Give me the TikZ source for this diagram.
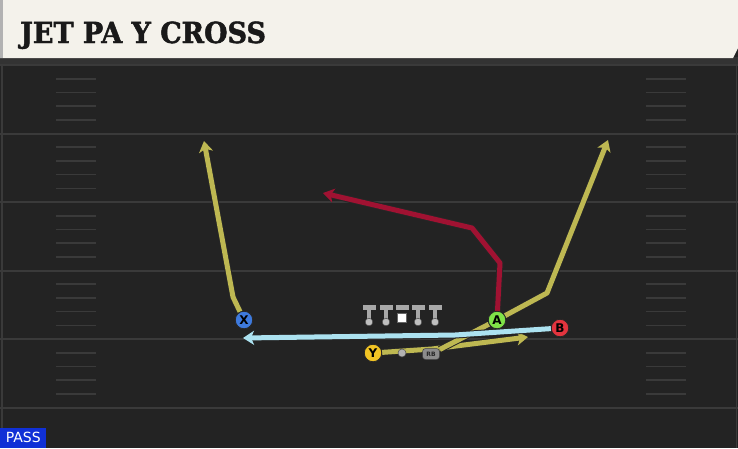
\documentclass[tikz,border=0pt]{standalone}
\usepackage{fontspec}
\setmainfont{DejaVu Sans}
\newfontfamily\titlefont[FakeStretch=0.93,FakeBold=1.6]{DejaVu Serif Bold}
\usetikzlibrary{arrows.meta}
\usetikzlibrary{positioning}

\definecolor{fieldbg}{RGB}{35,35,35}
\definecolor{yardline}{RGB}{58,58,58}
\definecolor{headercream}{RGB}{244,242,235}
\definecolor{routeyellow}{RGB}{190,184,82}
\definecolor{routered}{RGB}{160,18,50}
\definecolor{routeblue}{RGB}{172,226,240}
\definecolor{xblue}{RGB}{62,122,222}
\definecolor{agreen}{RGB}{128,226,72}
\definecolor{bred}{RGB}{226,52,62}
\definecolor{yyellow}{RGB}{242,196,36}
\definecolor{passblue}{RGB}{16,48,214}
\definecolor{olgray}{RGB}{168,168,168}

\pgfdeclarelayer{field}
\pgfdeclarelayer{routes}
\pgfsetlayers{field,routes,main}

\tikzset{
  player/.style={circle,draw=black!85,line width=0.8pt,minimum size=17.5pt,inner sep=0pt,
    font=\bfseries\fontsize{12}{12}\selectfont},
  route/.style={line width=5pt,line join=round,
    preaction={draw=black!85,line width=7pt}},
  tip/.style={-{Stealth[length=11pt,width=14pt,inset=3pt]}},
  hash/.style={yardline,line width=1.6pt},
}

\begin{document}
\begin{tikzpicture}[x=1pt,y=-1pt]
\useasboundingbox (0,0) rectangle (738,448);

\begin{pgfonlayer}{field}
\fill[fieldbg] (0,0) rectangle (738,448);
% yard lines and hash marks
\foreach \yy in {65,133.5,202,270.5,339,407.5}{
  \draw[yardline,line width=2pt] (0,\yy) -- (738,\yy);
}
\foreach \yy in {65,133.5,202,270.5,339}{
  \foreach \dy in {13.7,27.4,41.1,54.8}{
    \draw[hash] (56,\yy+\dy) -- (96,\yy+\dy);
    \draw[hash] (646,\yy+\dy) -- (686,\yy+\dy);
  }
}
\draw[yardline,line width=1.5pt] (2,60) -- (2,448);
\draw[yardline,line width=1.5pt] (736.5,60) -- (736.5,448);
\end{pgfonlayer}

% header
\fill[black!80] (0,57) rectangle (738,64);
\fill[headercream] (0,0) -- (738,0) -- (738,48) -- (733,58) -- (0,58) -- cycle;
\fill[black!30] (0,0) rectangle (3,58);
\node[anchor=base west,inner sep=0pt,font=\titlefont\fontsize{29}{29}\selectfont,text=black!90]
  (title) at (20,43) {JET PA Y CROSS};

% offensive line
\foreach \xx in {369,386,418,435}{
  \fill[olgray] (\xx-6.5,305) rectangle (\xx+6.5,310);
  \fill[olgray] (\xx-2.2,310) rectangle (\xx+2.2,320);
  \filldraw[fill=black!25,draw=black!70,line width=0.5pt] (\xx,322) circle (3.8);
}
\fill[olgray] (395.5,305) rectangle (408.5,310);
\filldraw[fill=white,draw=black!60,line width=0.4pt] (397.5,313.5) rectangle (406.5,322);

% players
\node[player,fill=xblue] (X) at (244,320) {X};
\node[player,fill=agreen] (A) at (497,320) {A};
\node[player,fill=bred] (B) at (560,328) {B};
\node[player,fill=yyellow] (Y) at (373,353) {Y};
\node[circle,fill=black!30,draw=black!70,line width=0.5pt,minimum size=8pt,inner sep=0pt] (QB) at (402,353) {};
\node[fill=black!45,draw=black!75,line width=0.5pt,rounded corners=3pt,minimum width=17pt,minimum height=11pt,
  inner sep=0pt,text=black!85,font=\bfseries\fontsize{6}{6}\selectfont] (RB) at (431,354) {RB};

% routes
\begin{pgfonlayer}{routes}
\draw[route,routeyellow,tip] (X) -- (233,297) -- (204,141);
\draw[route,routered,tip] (A) -- (500,263) -- (472,228) -- (323,193);
\draw[route,routeyellow,tip] (A) -- (547,293) -- (608,140);
\draw[route,routeyellow,tip] (Y) -- (432,349) -- (528,337);
\draw[route,routeyellow] (RB) -- (A);
\draw[route,routeblue,tip] (B) -- (455,335) -- (243,338);
\end{pgfonlayer}

% play type
\node[fill=passblue,anchor=south west,inner sep=0pt,minimum width=46pt,minimum height=20pt,
  text=white,font=\fontsize{14}{14}\selectfont] (pass) at (0,448) {PASS};
\end{tikzpicture}
\end{document}
